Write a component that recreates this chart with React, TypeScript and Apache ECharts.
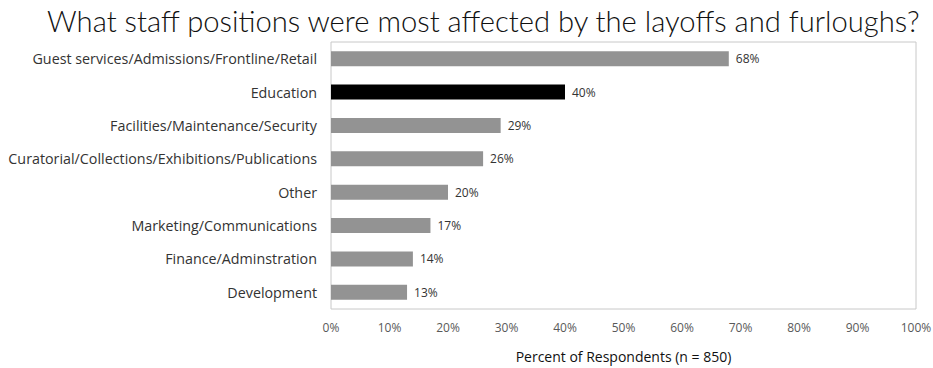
import React, { useEffect, useRef } from "react";
import * as echarts from "echarts";

const categories = [
  "Guest services/Admissions/Frontline/Retail",
  "Education",
  "Facilities/Maintenance/Security",
  "Curatorial/Collections/Exhibitions/Publications",
  "Other",
  "Marketing/Communications",
  "Finance/Adminstration",
  "Development",
];
const values = [68, 40, 29, 26, 20, 17, 14, 13];
const highlighted = ["Education"];
const titleText = "What staff positions were most affected by the layoffs and furloughs?";
const axisTitle = "Percent of Respondents (n = 850)";

export default function App() {
  const ref = useRef<HTMLDivElement>(null);
  useEffect(() => {
    const chart = echarts.init(ref.current!, null, { renderer: "svg" });
    chart.setOption({
      animation: false,
      backgroundColor: "#ffffff",
      title: {
        text: titleText,
        left: 42,
        top: 1,
        textStyle: {
          fontFamily: "Lato",
          fontWeight: 300,
          fontSize: 29.2,
          color: "#111111",
        },
      },
      grid: {
        left: 331,
        right: 17,
        top: 42,
        bottom: 59,
        show: true,
        borderColor: "#c8c8c8",
        borderWidth: 1,
        outerBoundsMode: "none",
        containLabel: false,
      },
      xAxis: {
        type: "value",
        min: 0,
        max: 100,
        interval: 10,
        splitLine: { show: false },
        axisLine: { show: false },
        axisTick: { show: false },
        axisLabel: {
          formatter: "{value}%",
          color: "#595959",
          fontFamily: "Open Sans",
          fontSize: 12,
          margin: 12,
        },
        name: axisTitle,
        nameLocation: "middle",
        nameGap: 40,
        nameTextStyle: {
          color: "#111111",
          fontFamily: "Open Sans",
          fontSize: 14,
        },
      },
      yAxis: {
        type: "category",
        data: categories,
        inverse: true,
        axisLine: { show: false },
        axisTick: { show: false },
        axisLabel: {
          color: "#333333",
          fontFamily: "Open Sans",
          fontSize: 14.3,
          margin: 14,
        },
      },
      series: [
        {
          type: "bar",
          data: values.map((v, i) => ({
            value: v,
            itemStyle: {
              color: highlighted.includes(categories[i]) ? "#000000" : "#939393",
            },
          })),
          barWidth: 15,
          label: {
            show: true,
            position: "right",
            distance: 7,
            formatter: "{c}%",
            color: "#333333",
            fontFamily: "Open Sans",
            fontSize: 12,
          },
        },
      ],
    });
    return () => chart.dispose();
  }, []);
  return (
    <div
      ref={ref}
      style={{ position: "fixed", left: 0, top: 0, width: 933, height: 368 }}
    />
  );
}
